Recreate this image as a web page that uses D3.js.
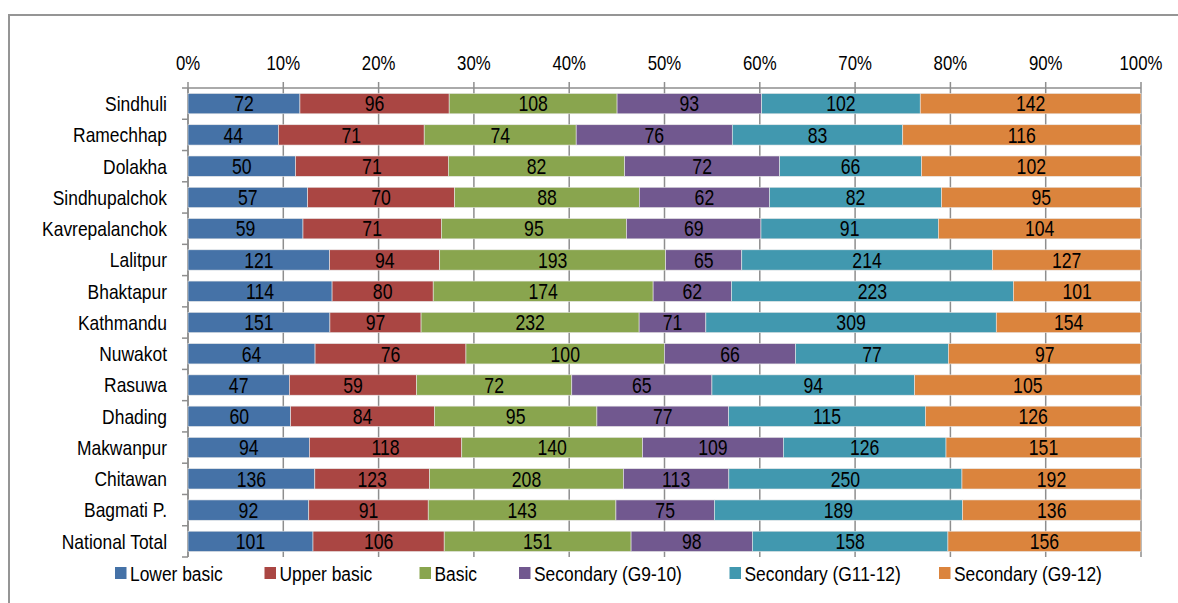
<!DOCTYPE html>
<html><head><meta charset="utf-8">
<script src="https://cdn.jsdelivr.net/npm/d3@7"></script>
<style>
html,body{margin:0;padding:0;background:#fff;}
svg{display:block;}
text{font-family:"Liberation Sans Narrow","Arial Narrow","Liberation Sans",Arial,sans-serif;fill:#000;}
</style></head>
<body>
<svg id="chart" width="1178" height="603"></svg>
<script>
const categories = ["Sindhuli","Ramechhap","Dolakha","Sindhupalchok","Kavrepalanchok","Lalitpur","Bhaktapur","Kathmandu","Nuwakot","Rasuwa","Dhading","Makwanpur","Chitawan","Bagmati P.","National Total"];
const seriesNames = ["Lower basic","Upper basic","Basic","Secondary (G9-10)","Secondary (G11-12)","Secondary (G9-12)"];
const lowerBasic   = [72,44,50,57,59,121,114,151,64,47,60,94,136,92,101];
const upperBasic   = [96,71,71,70,71,94,80,97,76,59,84,118,123,91,106];
const basic        = [108,74,82,88,95,193,174,232,100,72,95,140,208,143,151];
const secG9_10     = [93,76,72,62,69,65,62,71,66,65,77,109,113,75,98];
const secG11_12    = [102,83,66,82,91,214,223,309,77,94,115,126,250,189,158];
const secG9_12     = [142,116,102,95,104,127,101,154,97,105,126,151,192,136,156];
const tickLabels = ["0%","10%","20%","30%","40%","50%","60%","70%","80%","90%","100%"];
const colors = ["#4572A7","#AA4643","#89A54E","#71588F","#4198AF","#DB843D"];

(function(){
const seriesData = [lowerBasic, upperBasic, basic, secG9_10, secG11_12, secG9_12];
const rows = categories.map((c,i)=>{
  const o = {cat:c};
  seriesNames.forEach((s,j)=>{o[s]=seriesData[j][i];});
  return o;
});
const stacked = d3.stack().keys(seriesNames).offset(d3.stackOffsetExpand)(rows);

const svg = d3.select("#chart");
const pL = 188, pR = 1141, pT = 88, pB = 557;
const x = d3.scaleLinear().domain([0,1]).range([pL,pR]);
const y = d3.scaleBand().domain(categories).range([pT,pB]).paddingInner(0.35).paddingOuter(0.175);
const yb = d3.scaleBand().domain(categories).range([pT,pB]);
const grid = "#8e8e8e";

function ctext(sel, xf, yf, sx){
  return sel.attr("transform",(d,i)=>`translate(${xf(d,i)},${yf(d,i)}) scale(${sx},1)`);
}

svg.append("path").attr("d",`M9,603 V15 H1178`).attr("fill","none").attr("stroke","#959595").attr("stroke-width",2);

svg.append("g").selectAll("line").data(d3.range(0,11)).join("line")
  .attr("x1",d=>x(d/10)).attr("x2",d=>x(d/10)).attr("y1",pT-6).attr("y2",pB)
  .attr("stroke",grid).attr("stroke-width",1.5);
svg.append("line").attr("x1",pL).attr("x2",pR).attr("y1",pT).attr("y2",pT).attr("stroke",grid).attr("stroke-width",1.5);
svg.append("line").attr("x1",pL).attr("x2",pL).attr("y1",pT).attr("y2",pB).attr("stroke",grid).attr("stroke-width",1.5);
svg.append("g").selectAll("line").data(categories.concat(["__end"])).join("line")
  .attr("x1",pL-6).attr("x2",pL)
  .attr("y1",(d,i)=> i<categories.length ? yb(d) : pB)
  .attr("y2",(d,i)=> i<categories.length ? yb(d) : pB)
  .attr("stroke",grid).attr("stroke-width",1.5);

ctext(svg.append("g").selectAll("text").data(tickLabels).join("text")
  .attr("text-anchor","middle").attr("font-size",20).text(d=>d),
  (d,i)=>x(i/10), ()=>70, 0.84);

ctext(svg.append("g").selectAll("text").data(categories).join("text")
  .attr("dy","0.36em").attr("text-anchor","end").attr("font-size",20.5).text(d=>d),
  ()=>pL-21, d=>y(d)+y.bandwidth()/2, 0.85);

const g = svg.append("g");
stacked.forEach((layer,j)=>{
  g.append("g").selectAll("rect").data(layer).join("rect")
    .attr("x",d=>x(d[0])).attr("width",d=>x(d[1])-x(d[0]))
    .attr("y",(d,i)=>y(categories[i])).attr("height",y.bandwidth())
    .attr("fill",colors[j]).attr("stroke","#e8e8e8").attr("stroke-width",0.6);
});
stacked.forEach((layer,j)=>{
  ctext(g.append("g").selectAll("text").data(layer).join("text")
    .attr("dy","0.36em").attr("text-anchor","middle").attr("font-size",21.5)
    .text((d,i)=>seriesData[j][i]),
    d=>(x(d[0])+x(d[1]))/2, (d,i)=>y(categories[i])+y.bandwidth()/2, 0.82);
});

const legendX = [115,264.5,419.5,519,729.5,939];
const lgd = svg.append("g");
seriesNames.forEach((s,j)=>{
  lgd.append("rect").attr("x",legendX[j]).attr("y",567).attr("width",11.5).attr("height",12).attr("fill",colors[j]);
  lgd.append("text").attr("font-size",20).attr("transform",`translate(${legendX[j]+15},581) scale(0.87,1)`).text(s);
});
})();
</script>
</body></html>
